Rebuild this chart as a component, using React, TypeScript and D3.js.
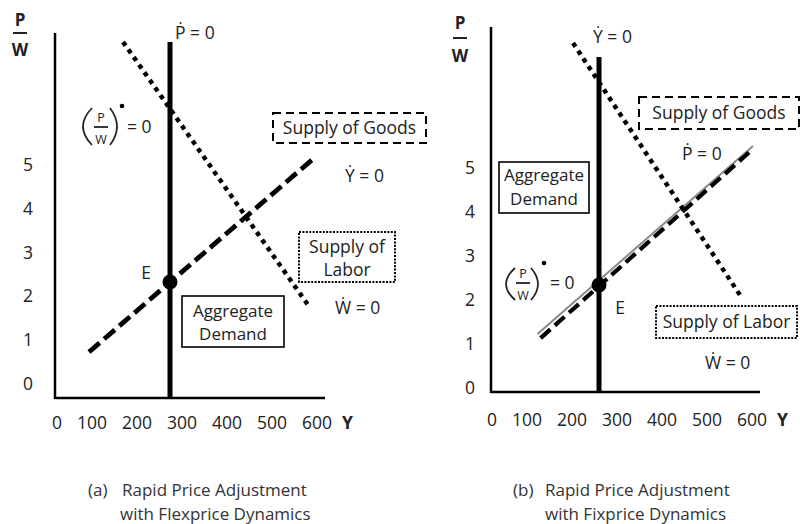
import React from "react";
import * as d3 from "d3";

// ---------- data ----------
const yTickValues = [0, 1, 2, 3, 4, 5];
const xTickValues = [0, 100, 200, 300, 400, 500, 600];

// Panel (a): flexprice dynamics
const aPriceVertical = [{ x: 240, y: 7.81 }, { x: 240, y: -0.34 }];
const aLaborLine = [{ x: 135.6, y: 7.81 }, { x: 551, y: 1.74 }];
const aDemandLine = [{ x: 60, y: 0.73 }, { x: 558, y: 5.14 }];
const aEquilibrium = { x: 240, y: 2.33 };

// Panel (b): fixprice dynamics
const bOutputVertical = [{ x: 226.7, y: 7.52 }, { x: 226.7, y: -0.1 }];
const bLaborLine = [{ x: 168.9, y: 7.84 }, { x: 544, y: 2.05 }];
const bDemandLine = [{ x: 95.6, y: 1.16 }, { x: 566.7, y: 5.45 }];
const bGoodsLine = [{ x: 90, y: 1.23 }, { x: 568.9, y: 5.5 }];
const bEquilibrium = { x: 226.7, y: 2.34 };

const captionA = ["(a)", "Rapid Price Adjustment", "with Flexprice Dynamics"];
const captionB = ["(b)", "Rapid Price Adjustment", "with Fixprice Dynamics"];

type Pt = { x: number; y: number };

const FONT = "'Open Sans', 'Noto Sans', sans-serif";
const TXT = "#222";
const FS = 17.5;

function Paren({ x, top, bot, left }: { x: number; top: number; bot: number; left: boolean }) {
  const mid = (top + bot) / 2;
  const c = left ? x - 18 : x + 14;
  return <path d={`M ${x} ${top} Q ${c} ${mid} ${x} ${bot}`} fill="none" stroke={TXT} strokeWidth={1.7} />;
}

function PWDot({ cfg }: { cfg: any }) {
  const { l, r, top, bot, px, py, by, wy, dot, eqX, eqY } = cfg;
  return (
    <g>
      <Paren x={l} top={top} bot={bot} left={true} />
      <Paren x={r} top={top} bot={bot} left={false} />
      <text x={px} y={py + 4.5} fontSize={12.5} textAnchor="middle" fill={TXT} fontFamily={FONT}>P</text>
      <line x1={px - 7} x2={px + 7} y1={by} y2={by} stroke={TXT} strokeWidth={1.8} />
      <text x={px} y={wy + 4.5} fontSize={12.5} textAnchor="middle" fill={TXT} fontFamily={FONT}>W</text>
      <circle cx={dot[0]} cy={dot[1]} r={2.3} fill="#000" />
      <text x={eqX} y={eqY + 6} fontSize={FS} fill={TXT} fontFamily={FONT}>= 0</text>
    </g>
  );
}

function Panel({ cfg, vertical, labor, demand, goods, eq, caption }: any) {
  const x = d3.scaleLinear().domain([0, 600]).range([cfg.x0, cfg.x0 + 270]);
  const y = d3.scaleLinear().domain([0, 5]).range([cfg.y0, cfg.y0 - 5 * cfg.yStep]);
  const line = d3.line<Pt>().x((d) => x(d.x)).y((d) => y(d.y));
  return (
    <g>
      {/* axes */}
      <line x1={cfg.ox} x2={cfg.ox} y1={cfg.yTop} y2={cfg.oy + 1} stroke="#000" strokeWidth={2.5} />
      <line x1={cfg.ox} x2={cfg.xEnd} y1={cfg.oy} y2={cfg.oy} stroke="#000" strokeWidth={2.5} />
      {/* axis title P/W */}
      <text x={cfg.pw[0]} y={cfg.pw[1] + 6} fontSize={17} fontWeight="bold" textAnchor="middle" fill={TXT} fontFamily={FONT}>P</text>
      <line x1={cfg.pw[0] - 7} x2={cfg.pw[0] + 7} y1={cfg.pw[2]} y2={cfg.pw[2]} stroke={TXT} strokeWidth={2} />
      <text x={cfg.pw[0]} y={cfg.pw[3] + 6} fontSize={17} fontWeight="bold" textAnchor="middle" fill={TXT} fontFamily={FONT}>W</text>
      {/* y ticks */}
      {yTickValues.map((v) => (
        <text key={"y" + v} x={cfg.yLabX} y={y(v) + 6} fontSize={FS} textAnchor="middle" fill={TXT} fontFamily={FONT}>{v}</text>
      ))}
      {/* x ticks */}
      {xTickValues.map((v) => (
        <text key={"x" + v} x={x(v)} y={cfg.xLabY + 6} fontSize={FS} textAnchor="end" fill={TXT} fontFamily={FONT}>{v}</text>
      ))}
      <text x={x(600) + 10} y={cfg.xLabY + 6} fontSize={17.5} fontWeight="bold" fill={TXT} fontFamily={FONT}>Y</text>

      {/* curves */}
      {goods && <path d={line(goods) || ""} fill="none" stroke="#8a8a8a" strokeWidth={2} />}
      <path d={line(demand) || ""} fill="none" stroke="#000" strokeWidth={cfg.dashW} strokeDasharray={cfg.dash} transform={cfg.demandShift} />
      <path d={line(labor) || ""} fill="none" stroke="#000" strokeWidth={4.5} strokeDasharray="4.5 4.8" />
      <path d={line(vertical) || ""} fill="none" stroke="#000" strokeWidth={5} />
      <circle cx={x(eq.x)} cy={y(eq.y)} r={7.5} fill="#000" />

      {/* labels */}
      <text x={cfg.eLab[0]} y={cfg.eLab[1] + 6} fontSize={FS} textAnchor="middle" fill={TXT} fontFamily={FONT}>E</text>
      <text x={cfg.vLab[0]} y={cfg.vLab[1]} fontSize={FS} fill={TXT} fontFamily={FONT}>{cfg.vLab[2]}</text>
      <text x={cfg.gdotLab[0]} y={cfg.gdotLab[1]} fontSize={FS} fill={TXT} fontFamily={FONT}>{cfg.gdotLab[2]}</text>
      <text x={cfg.wLab[0]} y={cfg.wLab[1]} fontSize={FS} fill={TXT} fontFamily={FONT}>Ẇ = 0</text>
      <PWDot cfg={cfg.pwDot} />

      {/* boxes */}
      <rect x={cfg.goodsBox[0]} y={cfg.goodsBox[1]} width={cfg.goodsBox[2] - cfg.goodsBox[0]} height={cfg.goodsBox[3] - cfg.goodsBox[1]} fill="none" stroke="#000" strokeWidth={2} strokeDasharray="8 5" />
      <text x={(cfg.goodsBox[0] + cfg.goodsBox[2]) / 2} y={(cfg.goodsBox[1] + cfg.goodsBox[3]) / 2 + 5.5} fontSize={FS} textAnchor="middle" fill={TXT} fontFamily={FONT}>Supply of Goods</text>

      <rect x={cfg.laborBox[0]} y={cfg.laborBox[1]} width={cfg.laborBox[2] - cfg.laborBox[0]} height={cfg.laborBox[3] - cfg.laborBox[1]} fill="none" stroke="#000" strokeWidth={2} strokeDasharray="2 1.4" />
      {cfg.laborText.map((t: string, i: number) => (
        <text key={t} x={(cfg.laborBox[0] + cfg.laborBox[2]) / 2} y={cfg.laborTextY[i] + 6} fontSize={FS} textAnchor="middle" fill={TXT} fontFamily={FONT}>{t}</text>
      ))}

      <rect x={cfg.adBox[0]} y={cfg.adBox[1]} width={cfg.adBox[2] - cfg.adBox[0]} height={cfg.adBox[3] - cfg.adBox[1]} fill="none" stroke="#000" strokeWidth={1.6} />
      {["Aggregate", "Demand"].map((t, i) => (
        <text key={t} x={(cfg.adBox[0] + cfg.adBox[2]) / 2} y={cfg.adTextY[i] + 6} fontSize={17} textAnchor="middle" fill={TXT} fontFamily={FONT}>{t}</text>
      ))}

      {/* caption */}
      <text x={cfg.cap[0]} y={495.5} fontSize={17} fill="#333" fontFamily={FONT}>{caption[0]}</text>
      <text x={cfg.cap[1]} y={495.5} fontSize={17} fill="#333" fontFamily={FONT}>{caption[1]}</text>
      <text x={cfg.cap[2]} y={519.5} fontSize={17} fill="#333" fontFamily={FONT}>{caption[2]}</text>
    </g>
  );
}

const cfgA = {
  x0: 62, y0: 384, yStep: 43.8,
  ox: 55, oy: 398, yTop: 33, xEnd: 325,
  pw: [20, 20, 33, 50],
  yLabX: 28, xLabY: 423,
  dashW: 4.8, dash: "14 6", demandShift: "",
  eLab: [146, 273],
  vLab: [175, 39, "Ṗ = 0"],
  gdotLab: [345, 182, "Ẏ = 0"],
  wLab: [335, 314],
  pwDot: { l: 92, r: 110, top: 108, bot: 145, px: 101, py: 117, by: 127, wy: 139, dot: [122, 106], eqX: 127, eqY: 127 },
  goodsBox: [273, 113, 426, 143],
  laborBox: [299, 232, 395, 282], laborText: ["Supply of", "Labor"], laborTextY: [246.5, 270],
  adBox: [182, 296, 284, 347], adTextY: [310.5, 334],
  cap: [88, 122, 120],
};

const cfgB = {
  x0: 497, y0: 388, yStep: 44,
  ox: 491, oy: 392, yTop: 27, xEnd: 760,
  pw: [460, 23, 38, 56],
  yLabX: 470, xLabY: 420,
  dashW: 4.2, dash: "13 6", demandShift: "translate(0.6,1.1)",
  eLab: [620, 308],
  vLab: [593, 43, "Ẏ = 0"],
  gdotLab: [682, 160, "Ṗ = 0"],
  wLab: [705, 369],
  pwDot: { l: 515, r: 531, top: 268, bot: 300, px: 523, py: 273, by: 283, wy: 295, dot: [544, 263], eqX: 550, eqY: 283 },
  goodsBox: [639, 97, 799, 129],
  laborBox: [656, 306, 797, 338], laborText: ["Supply of Labor"], laborTextY: [322],
  adBox: [499, 162, 589, 213], adTextY: [175, 198.5],
  cap: [513, 545, 545],
};

export default function App() {
  return (
    <svg width={800} height={524} style={{ position: "absolute", left: 0, top: 0, background: "#fff" }}>
      <rect width={800} height={524} fill="#fff" />
      <Panel cfg={cfgA} vertical={aPriceVertical} labor={aLaborLine} demand={aDemandLine} eq={aEquilibrium} caption={captionA} />
      <Panel cfg={cfgB} vertical={bOutputVertical} labor={bLaborLine} demand={bDemandLine} goods={bGoodsLine} eq={bEquilibrium} caption={captionB} />
    </svg>
  );
}
